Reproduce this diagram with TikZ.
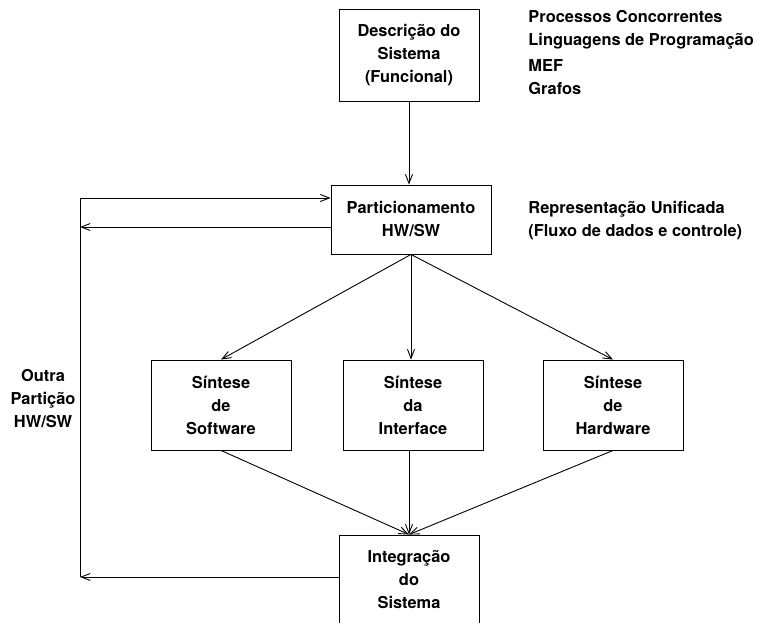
\documentclass[tikz,border=0pt]{standalone}
\usepackage{fontspec}
\setmainfont{TeX Gyre Heros}
\usetikzlibrary{arrows.meta}
\begin{document}
\begin{tikzpicture}[x=1bp,y=-1bp,
  line width=0.9bp,
  every node/.style={font=\fontsize{16.4bp}{23bp}\selectfont\bfseries},
  box/.style={draw, line width=0.9bp, minimum width=140bp, align=center, inner sep=0pt},
  lbl/.style={align=center, inner sep=0pt},
  note/.style={anchor=west, align=left, inner sep=0pt},
  arr/.style={-{Straight Barb[length=9bp,width=7bp]}}]
\fill[white] (0,0) rectangle (759,623);
\useasboundingbox (0,0) rectangle (759,623);

% process boxes
\node[box, minimum height=92bp] (desc) at (409,55) {Descrição do\\Sistema\\(Funcional)};
\node[box, minimum width=160bp, minimum height=69bp] (part) at (411,219.5) {Particionamento\\HW/SW};
\node[box, minimum height=90bp] (sw) at (221,405) {Síntese\\de\\Software};
\node[box, minimum height=90bp] (intf) at (413,405) {Síntese\\da\\Interface};
\node[box, minimum height=90bp] (hw) at (613,405) {Síntese\\de\\Hardware};
\node[box, minimum height=90bp] (integ) at (409,580) {Integração\\do\\Sistema};

% annotations
\node[note] (n1) at (528,29.5) {Processos Concorrentes\\Linguagens de Programação};
\node[note] (n2) at (528,77.5) {MEF\\Grafos};
\node[note] (n3) at (528,220.5) {Representação Unificada\\(Fluxo de dados e controle)};
\node[lbl] (outra) at (43,399) {Outra\\Partição\\HW/SW};

% main flow
\draw[arr] (desc.south) -- (desc.south |- part.north);
\draw[arr] (part.south) -- (sw.north);
\draw[arr] (part.south) -- (part.south |- intf.north);
\draw[arr] (part.south) -- (hw.north);
\draw[arr] (sw.south) -- (integ.north);
\draw[arr] (integ.north |- intf.south) -- (integ.north);
\draw[arr] (hw.south) -- (integ.north);

% repartition loop
\coordinate (lt) at (80,198);
\coordinate (lm) at (80,227);
\coordinate (lb) at (80,577);
\draw[arr] (lt) -- (lt -| part.west);
\draw[arr] (lm -| part.west) -- (lm);
\draw (lt) -- (lb);
\draw[arr] (lb -| integ.west) -- (lb);
\end{tikzpicture}
\end{document}
